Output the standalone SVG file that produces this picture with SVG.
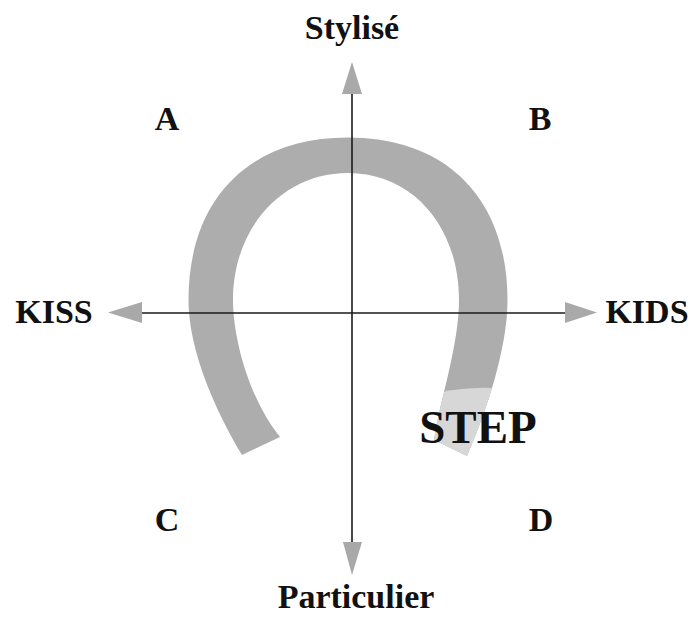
<svg xmlns="http://www.w3.org/2000/svg" width="694" height="617" viewBox="0 0 694 617">
<style>
.lbl{font-family:"Liberation Serif","Times New Roman",serif;font-weight:bold;font-size:34px;fill:#111;text-anchor:middle}
.big{font-size:47px}
.axis{stroke:#1a1a1a;stroke-width:1.6;fill:none}
.head{fill:#a9a9a9}
</style>
<defs>
<path id="shoe" d="M242 455 C215 410 188.5 350 188.5 300 C188.5 199 249 137.5 348 137.5 C447 137.5 507.5 199 507.5 300 C507.5 350 485 415 467 456 L434 440 C440 400 459 345 459 300 C459 227 413 173 348 173 C283 173 233 227 233 300 C233 340 250 400 280 437 Z"/>
<clipPath id="shoeClip"><use href="#shoe"/></clipPath>
</defs>
<rect width="694" height="617" fill="#fff"/>
<g id="horseshoe">
<use href="#shoe" fill="#adadad"/>
<path d="M420 398 Q465 383 515 390 L515 475 L415 475 Z" fill="#d7d7d7" clip-path="url(#shoeClip)"/>
</g>
<g id="connectors">
<line class="axis" x1="352" y1="93" x2="352" y2="543"/>
<line class="axis" x1="141" y1="313" x2="566" y2="313"/>
<polygon class="head" points="352,62 342,94 362,94"/>
<polygon class="head" points="352,575 343,542 362,542"/>
<polygon class="head" points="108,312.5 142,302 142,323"/>
<polygon class="head" points="597,312.5 565,302 565,323"/>
</g>
<g id="node-stylise"><text class="lbl" x="352" y="39">Stylisé</text></g>
<g id="node-particulier"><text class="lbl" x="356" y="608">Particulier</text></g>
<g id="node-kiss"><text class="lbl" x="54" y="323">KISS</text></g>
<g id="node-kids"><text class="lbl" x="647" y="323">KIDS</text></g>
<g id="node-a"><text class="lbl" x="167" y="130">A</text></g>
<g id="node-b"><text class="lbl" x="540" y="130">B</text></g>
<g id="node-c"><text class="lbl" x="167" y="531">C</text></g>
<g id="node-d"><text class="lbl" x="541" y="531">D</text></g>
<g id="node-step"><text class="lbl big" x="478" y="443">STEP</text></g>
</svg>
